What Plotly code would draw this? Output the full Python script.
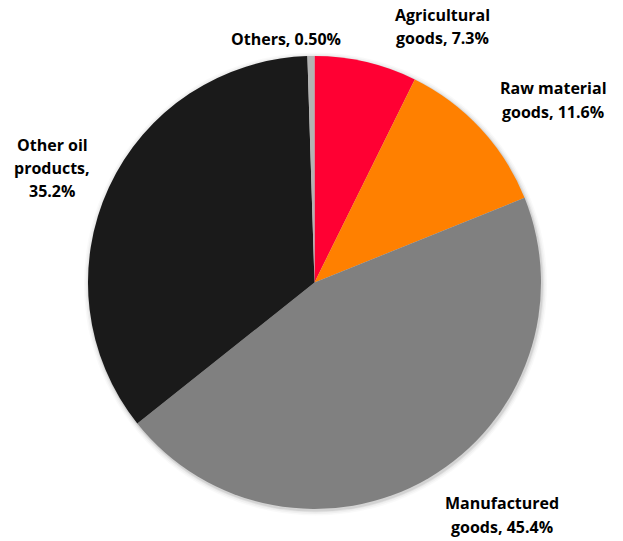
import plotly.graph_objects as go

categories = ["Agricultural goods", "Raw material goods", "Manufactured goods", "Other oil products", "Others"]
shares = [7.3, 11.6, 45.4, 35.2, 0.5]
share_labels = ["7.3%", "11.6%", "45.4%", "35.2%", "0.50%"]
colors = ["#FF0033", "#FF8000", "#808080", "#1A1A1A", "#B3B3B3"]

OFF = 8  # browser body margin
W, H = 623 - OFF, 541 - OFF
ML, MT = 88 - OFF, 56 - OFF
PW = PH = 453
MR = W - ML - PW
MB = H - MT - PH

def px(x):
    return (x - OFF - ML) / PW

def py(y):
    return 1 - (y - OFF - MT) / PH

fig = go.Figure()
fig.add_trace(go.Pie(
    labels=categories, values=shares, sort=False, direction="clockwise", rotation=0,
    marker=dict(colors=colors, line=dict(width=0)),
    textinfo="none", hoverinfo="label+percent", showlegend=False,
))

# soft shadow behind the pie
for grow, alpha in [(5, 0.025), (3.5, 0.035), (2, 0.05), (1, 0.07)]:
    g = grow / PW
    fig.add_shape(type="circle", xref="paper", yref="paper", layer="below",
                  x0=-g + 1 / PW, x1=1 + g + 1 / PW, y0=-g - 1.5 / PH, y1=1 + g - 1.5 / PH,
                  line=dict(width=0), fillcolor=f"rgba(0,0,0,{alpha})")

label_layout = [
    (["Agricultural", "goods, " + share_labels[0]], 442, [15, 38]),
    (["Raw material", "goods, " + share_labels[1]], 553, [88, 112]),
    (["Manufactured", "goods, " + share_labels[2]], 502, [503, 527]),
    (["Other oil", "products,", share_labels[3]], 52, [145, 168, 191]),
    (["Others, " + share_labels[4]], 286, [39]),
]
for lines, cx, ys in label_layout:
    for t, y in zip(lines, ys):
        fig.add_annotation(text="<b>" + t + "</b>", x=px(cx), y=py(y), xref="paper", yref="paper",
                           showarrow=False, xanchor="center", yanchor="middle",
                           font=dict(family="Open Sans, sans-serif", size=16, color="#000000"))

fig.update_layout(
    width=W, height=H, margin=dict(l=ML, r=MR, t=MT, b=MB),
    paper_bgcolor="white", plot_bgcolor="white",
)
fig.write_html("out.html")
